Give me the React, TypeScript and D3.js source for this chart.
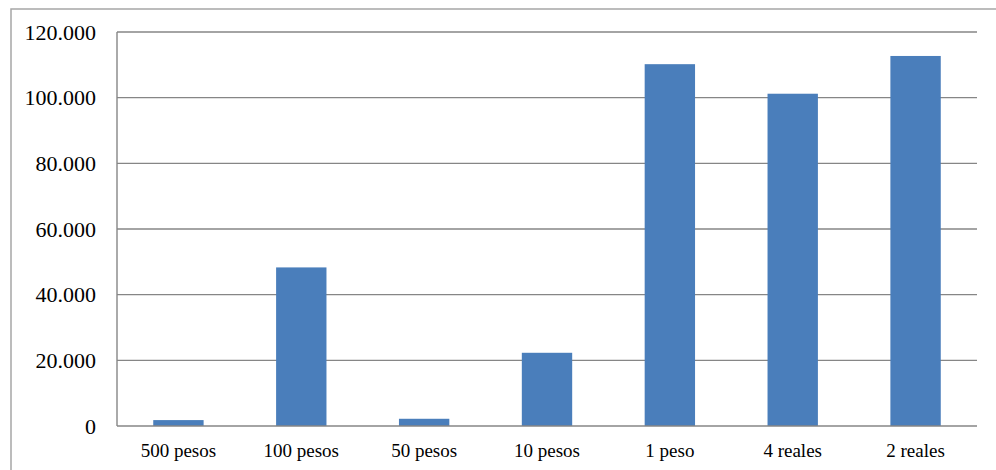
import React from "react";
import * as d3 from "d3";

const categories = ["500 pesos", "100 pesos", "50 pesos", "10 pesos", "1 peso", "4 reales", "2 reales"];
const values = [1800, 48300, 2200, 22300, 110200, 101200, 112700];
const yTicks = [0, 20000, 40000, 60000, 80000, 100000, 120000];
const yTickLabels = ["0", "20.000", "40.000", "60.000", "80.000", "100.000", "120.000"];

const W = 996;
const H = 470;
const left = 117;
const right = 977;
const top = 32;
const bottom = 426;

export default function App() {
  const x = d3.scaleBand<string>().domain(categories).range([left, right]).paddingInner(0.59).paddingOuter(0.295);
  const y = d3.scaleLinear().domain([0, 120000]).range([bottom, top]);
  const grid = "#868686";
  const fontStyle = { fontFamily: "Liberation Serif" };
  return (
    <svg width={W} height={H} style={{ position: "absolute", left: 0, top: 0, background: "#fff" }}>
      <rect x={11} y={9} width={W} height={H} fill="#fff" stroke="#a6a6a6" strokeWidth={1.5} />
      {yTicks.map((t, i) => (
        <g key={t}>
          {i > 0 && <line x1={left} x2={right} y1={y(t)} y2={y(t)} stroke={grid} strokeWidth={1.4} />}
          <text x={96} y={y(t) + 7.5} textAnchor="end" style={fontStyle} fontSize={22} fill="#000">
            {yTickLabels[i]}
          </text>
        </g>
      ))}
      {categories.map((c, i) => (
        <rect
          key={c}
          x={x(c)}
          y={y(values[i])}
          width={x.bandwidth()}
          height={bottom - y(values[i])}
          fill="#4A7EBB"
        />
      ))}
      <line x1={left} x2={left} y1={top} y2={bottom} stroke={grid} strokeWidth={1.4} />
      <line x1={left} x2={right} y1={bottom} y2={bottom} stroke={grid} strokeWidth={1.4} />
      {categories.map((c) => (
        <text
          key={c}
          x={(x(c) as number) + x.bandwidth() / 2}
          y={457}
          textAnchor="middle"
          style={fontStyle}
          fontSize={19}
          fill="#000"
        >
          {c}
        </text>
      ))}
    </svg>
  );
}
